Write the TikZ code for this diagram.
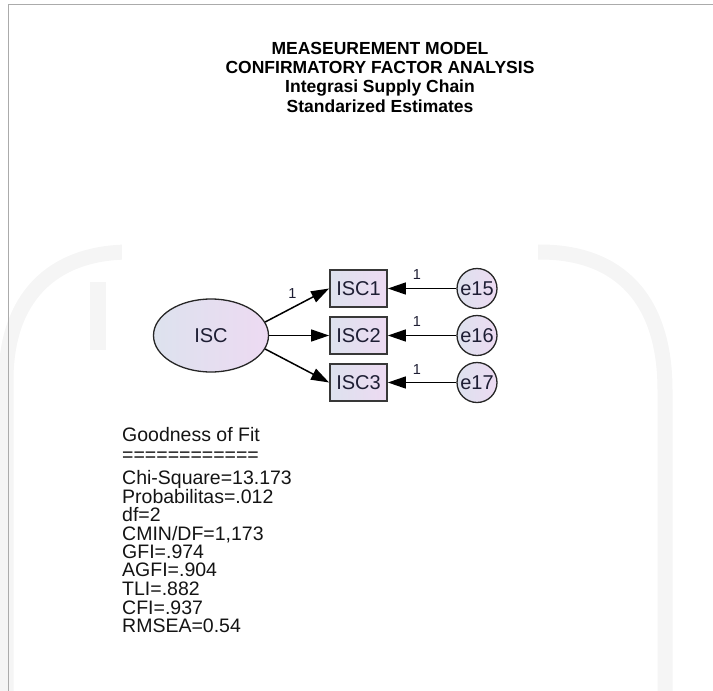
\documentclass[tikz,border=0pt]{standalone}
\usepackage{fontspec}
\setmainfont{Liberation Sans}
\usetikzlibrary{shapes.geometric,arrows.meta}
\definecolor{nodeA}{HTML}{DDE2EE}
\definecolor{nodeB}{HTML}{EDDAF2}
\definecolor{txt}{HTML}{1E1E34}
\definecolor{wm}{HTML}{F5F5F5}
\definecolor{framec}{HTML}{ABABAB}
\begin{document}
\begin{tikzpicture}[x=1pt,y=-1pt,
  every node/.style={text=txt},
  nodefont/.style={font=\fontsize{20}{20}\selectfont},
  latent/.style={ellipse, draw=black!85, line width=1.3pt, minimum width=115pt, minimum height=73pt, inner sep=0pt, left color=nodeA, right color=nodeB, nodefont},
  observed/.style={rectangle, draw=black!78, line width=1.8pt, minimum width=57pt, minimum height=37pt, inner sep=0pt, left color=nodeA, right color=nodeB, nodefont},
  errnode/.style={circle, draw=black!85, line width=1.3pt, minimum size=40pt, inner sep=0pt, left color=nodeA, right color=nodeB, nodefont},
  arr/.style={line width=1.5pt, black, -{Triangle[length=18pt,width=12pt]}},
  wt/.style={font=\fontsize{14.5}{14.5}\selectfont, inner sep=0pt},
  title/.style={font=\fontsize{17.5}{17.5}\selectfont\bfseries, anchor=base, text=black},
  fit/.style={font=\fontsize{19.5}{19.5}\selectfont, anchor=base west, inner sep=0pt, text=black!92}
]
\useasboundingbox (0,0) rectangle (713,691);
% faint watermark
\draw[wm, line width=15pt] (665,691) -- (665,390) .. controls (665,300) and (620,252) .. (540,252) -- (130,252) .. controls (50,252) and (6,300) .. (6,380) -- (6,691);
\fill[wm] (90,282) rectangle (106,350);
\fill[white] (122,242) rectangle (538,663);
% frame
\draw[framec, line width=1.5pt] (713,4.5) -- (8.5,4.5) -- (8.5,691);
% titles
\node[title] (t1) at (380,54) {MEASEUREMENT MODEL};
\node[title] (t2) at (380,73.3) {CONFIRMATORY FACTOR ANALYSIS};
\node[title] (t3) at (380,92.3) {Integrasi Supply Chain};
\node[title] (t4) at (380,112) {Standarized Estimates};
% nodes
\node[latent] (ISC) at (211,335.5) {ISC};
\node[observed] (ISC1) at (358.5,288.5) {ISC1};
\node[observed] (ISC2) at (358.5,335.5) {ISC2};
\node[observed] (ISC3) at (358.5,382.5) {ISC3};
\node[errnode] (e15) at (477,288.5) {e15};
\node[errnode] (e16) at (477,335.5) {e16};
\node[errnode] (e17) at (477,382.5) {e17};
% connectors
\draw[arr] (ISC.14) -- (ISC1.west);
\draw[arr] (ISC.east) -- (ISC2.west);
\draw[arr] (ISC.-14) -- (ISC3.west);
\draw[arr] (e15.west) -- (ISC1.east);
\draw[arr] (e16.west) -- (ISC2.east);
\draw[arr] (e17.west) -- (ISC3.east);
% weights
\node[wt] (w1) at (292.5,294) {1};
\node[wt] (w2) at (417,275) {1};
\node[wt] (w3) at (417,322) {1};
\node[wt] (w4) at (417,370) {1};
% goodness of fit
\node[fit] (g0) at (122,441) {Goodness of Fit};
\node[fit] (g1) at (122,461.5) {============};
\node[fit] (g2) at (122,484) {Chi-Square=13.173};
\node[fit] (g3) at (122,503) {Probabilitas=.012};
\node[fit] (g4) at (122,521.7) {df=2};
\node[fit] (g5) at (122,540) {CMIN/DF=1,173};
\node[fit] (g6) at (122,558.3) {GFI=.974};
\node[fit] (g7) at (122,576.7) {AGFI=.904};
\node[fit] (g8) at (122,595.7) {TLI=.882};
\node[fit] (g9) at (122,614) {CFI=.937};
\node[fit] (g10) at (122,632.7) {RMSEA=0.54};
\end{tikzpicture}
\end{document}
